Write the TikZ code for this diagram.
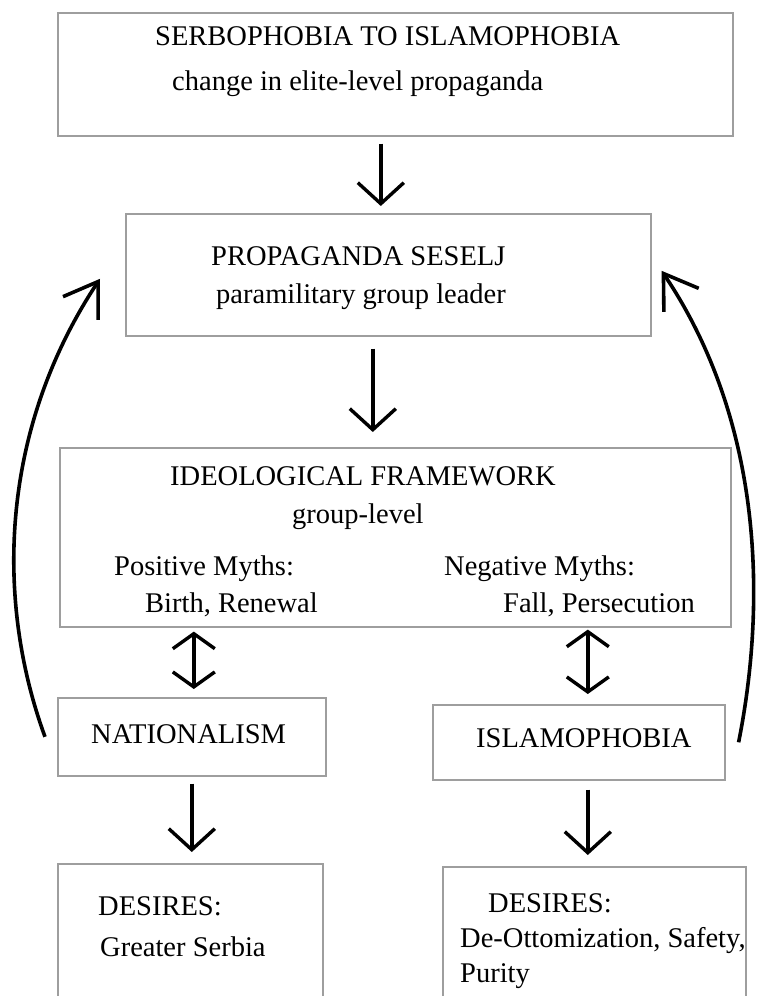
\documentclass[tikz,border=0pt]{standalone}
\usepackage{fontspec}
\setmainfont{Liberation Serif}
\usetikzlibrary{arrows.meta}
\tikzset{
  box/.style={draw=black!38, line width=1.6pt, rectangle, inner sep=0pt, anchor=north west},
  txt/.style={inner sep=0pt, anchor=base west, font=\fontsize{28.5pt}{34pt}\selectfont},
  arr/.style={line width=3.4pt, -{Straight Barb[length=21pt,width=46pt]}},
  dbl/.style={line width=3.4pt, {Straight Barb[length=15pt,width=42pt]}-{Straight Barb[length=15pt,width=42pt]}},
  crv/.style={line width=3.6pt, -{Straight Barb[length=32pt,width=42pt]}}
}
\begin{document}
\begin{tikzpicture}[x=1pt,y=-1pt]
\useasboundingbox (0,0) rectangle (762,996);
\clip (0,0) rectangle (762,996);
% boxes
\node[box, minimum width=675pt, minimum height=123pt] (b1) at (57,12) {};
\node[box, minimum width=525pt, minimum height=122pt] (b2) at (125,213) {};
\node[box, minimum width=671pt, minimum height=179pt] (b3) at (59,447) {};
\node[box, minimum width=268pt, minimum height=78pt] (b4) at (57,697) {};
\node[box, minimum width=292pt, minimum height=75pt] (b5) at (432,704) {};
\node[box, minimum width=265pt, minimum height=150pt] (b6) at (57,863) {};
\node[box, minimum width=303pt, minimum height=150pt] (b7) at (442,866) {};
% texts
\node[txt] (t1) at (155,45) {SERBOPHOBIA TO ISLAMOPHOBIA};
\node[txt] (t2) at (172,90) {change in elite-level propaganda};
\node[txt] (t3) at (211,265) {PROPAGANDA SESELJ};
\node[txt] (t4) at (216,303) {paramilitary group leader};
\node[txt] (t5) at (170,485) {IDEOLOGICAL FRAMEWORK};
\node[txt] (t6) at (292,523) {group-level};
\node[txt] (t7) at (114,575) {Positive Myths:};
\node[txt] (t8) at (444,575) {Negative Myths:};
\node[txt] (t9) at (145,612) {Birth, Renewal};
\node[txt] (t10) at (503,612) {Fall, Persecution};
\node[txt] (t11) at (91,743) {NATIONALISM};
\node[txt] (t12) at (476,747) {ISLAMOPHOBIA};
\node[txt] (t13) at (98,915) {DESIRES:};
\node[txt] (t14) at (100,956) {Greater Serbia};
\node[txt] (t15) at (488,912) {DESIRES:};
\node[txt] (t16) at (460,947) {De-Ottomization, Safety,};
\node[txt] (t17) at (460,982) {Purity};
% straight arrows
\draw[arr, shorten <=7pt, shorten >=7pt] ([xshift=-14.5pt]b1.south) -- ([xshift=-7.5pt]b2.north);
\draw[arr, shorten <=12pt, shorten >=15pt] ([xshift=-15.5pt]b2.south) -- ([xshift=-22.5pt]b3.north);
\draw[dbl, shorten <=4pt, shorten >=8pt] ([xshift=-201.5pt]b3.south) -- ([xshift=2pt]b4.north);
\draw[dbl, shorten <=2pt, shorten >=10pt] ([xshift=192.5pt]b3.south) -- ([xshift=9pt]b5.north);
\draw[arr, shorten <=7pt, shorten >=11pt] (b4.south) -- ([xshift=1.5pt]b6.north);
\draw[arr, shorten <=9pt, shorten >=11pt] ([xshift=9pt]b5.south) -- ([xshift=-6.5pt]b7.north);
% curved arrows
\draw[crv] ([xshift=-12pt]b4.west) .. controls (-5,600) and (0,430) .. ([xshift=-25pt,yshift=-4pt]b2.west);
\draw[crv] ([xshift=13pt]b5.east) .. controls (767,600) and (762,420) .. ([xshift=10pt,yshift=4pt]b2.east);
\end{tikzpicture}
\end{document}
